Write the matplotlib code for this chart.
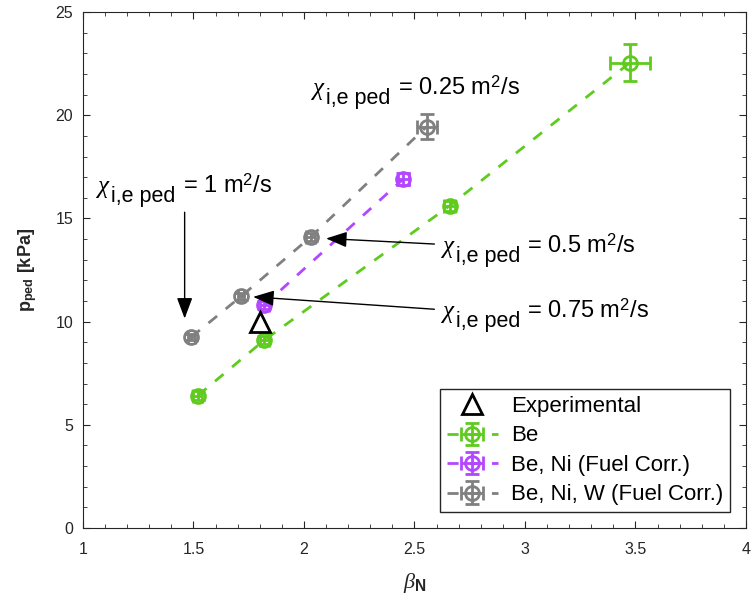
import matplotlib
matplotlib.use("Agg")
from matplotlib import pyplot as plt
from matplotlib.ticker import MultipleLocator, FormatStrFormatter

plt.rcParams['font.family'] = ['Liberation Sans', 'DejaVu Sans']
plt.rcParams['mathtext.fontset'] = 'custom'
plt.rcParams['mathtext.rm'] = 'Liberation Sans'
plt.rcParams['mathtext.it'] = 'Liberation Serif:italic'
plt.rcParams['mathtext.bf'] = 'Liberation Sans:bold'

# data
exp_beta = [1.80]
exp_p = [10.0]

be_beta = [1.52, 1.82, 2.66, 3.475]
be_p = [6.42, 9.1, 15.62, 22.55]
be_xerr = [0.02, 0.02, 0.025, 0.09]
be_perr = [0.2, 0.2, 0.25, 0.88]

ni_beta = [1.82, 2.45]
ni_p = [10.8, 16.92]
ni_xerr = [0.02, 0.025]
ni_perr = [0.2, 0.3]

w_beta = [1.49, 1.715, 2.03, 2.555]
w_p = [9.25, 11.22, 14.1, 19.45]
w_xerr = [0.015, 0.015, 0.02, 0.045]
w_perr = [0.15, 0.15, 0.2, 0.6]

chi_vals = ['0.25', '1', '0.5', '0.75']
chi_x = [2.042, 1.069, 2.629, 2.629]
chi_y = [20.98, 16.25, 13.34, 10.19]

green = '#5fcb1f'
purple = '#b347ff'
grey = '#808080'

fig = plt.figure(figsize=(7.51, 6.05), dpi=100)
ax = fig.add_axes([0.1105, 0.1273, 0.8828, 0.8527])

ax.plot(exp_beta, exp_p, linestyle='none', marker='^', ms=15, mfc='none',
        mec='k', mew=2, label='Experimental', zorder=5)
for bx, py, xe, ye, c, lab in [
        (be_beta, be_p, be_xerr, be_perr, green, 'Be'),
        (ni_beta, ni_p, ni_xerr, ni_perr, purple, 'Be, Ni (Fuel Corr.)'),
        (w_beta, w_p, w_xerr, w_perr, grey, 'Be, Ni, W (Fuel Corr.)')]:
    ax.errorbar(bx, py, xerr=xe, yerr=ye, fmt='--o', color=c, ms=10,
                mfc='none', mew=2, lw=2, elinewidth=2, capsize=5, capthick=2,
                dashes=(4, 4), label=lab)

ax.set_xlim(1, 4)
ax.set_ylim(0, 25)
ax.xaxis.set_major_locator(MultipleLocator(0.5))
ax.xaxis.set_minor_locator(MultipleLocator(0.1))
ax.yaxis.set_major_locator(MultipleLocator(5))
ax.yaxis.set_minor_locator(MultipleLocator(1))
ax.xaxis.set_major_formatter(FormatStrFormatter('%g'))
ax.yaxis.set_major_formatter(FormatStrFormatter('%g'))
ax.tick_params(which='both', direction='in', top=True, right=True,
               labelsize=11.5, labelcolor='#262626', color='#262626')
ax.tick_params(which='major', length=5)
ax.tick_params(which='minor', length=3)
ax.tick_params(axis='x', pad=10)
ax.tick_params(axis='y', pad=7)
for s in ax.spines.values():
    s.set_color('#262626')

ax.set_xlabel(r'$\beta_{\mathbf{N}}$', fontsize=16, color='#262626',
              labelpad=10)
ax.set_ylabel(r'$\mathbf{p}_{\mathbf{ped}}$ [kPa]', fontsize=13,
              fontweight='bold', color='#262626', labelpad=12)


def chi_label(x, y, val):
    # chi, subscript and value drawn as chained texts so the subscript stays large
    chi = ax.text(x, y, '\u03c7', fontsize=18, family='Liberation Serif',
                  style='italic', va='baseline', ha='left')
    sub = ax.annotate('i,e ped', xy=(1, y), xycoords=(chi, 'data'),
                      xytext=(1.5, -6.5), textcoords='offset points',
                      fontsize=15.5, va='baseline', ha='left')
    ax.annotate('= ' + val + ' m$^2$/s', xy=(1, y), xycoords=(sub, 'data'),
                xytext=(5, 0), textcoords='offset points',
                fontsize=17, va='baseline', ha='left')


for v, x, y in zip(chi_vals, chi_x, chi_y):
    chi_label(x, y, v)

arr = dict(arrowstyle='-|>,head_length=0.8,head_width=0.3', color='k',
           lw=1, mutation_scale=16, shrinkA=0, shrinkB=0)
ax.annotate('', xy=(1.46, 10.15), xytext=(1.46, 15.3), arrowprops=arr)
ax.annotate('', xy=(2.10, 14.03), xytext=(2.59, 13.76), arrowprops=arr)
ax.annotate('', xy=(1.77, 11.2), xytext=(2.59, 10.6), arrowprops=arr)

leg = ax.legend(loc='lower right', bbox_to_anchor=(0.976, 0.031),
                borderaxespad=0, fontsize=16, fancybox=False,
                edgecolor='#262626', framealpha=1, handlelength=2.3,
                handletextpad=0.6, labelspacing=0.38, borderpad=0.3)
leg.get_frame().set_linewidth(1)

fig.savefig('out.png', dpi=100)
